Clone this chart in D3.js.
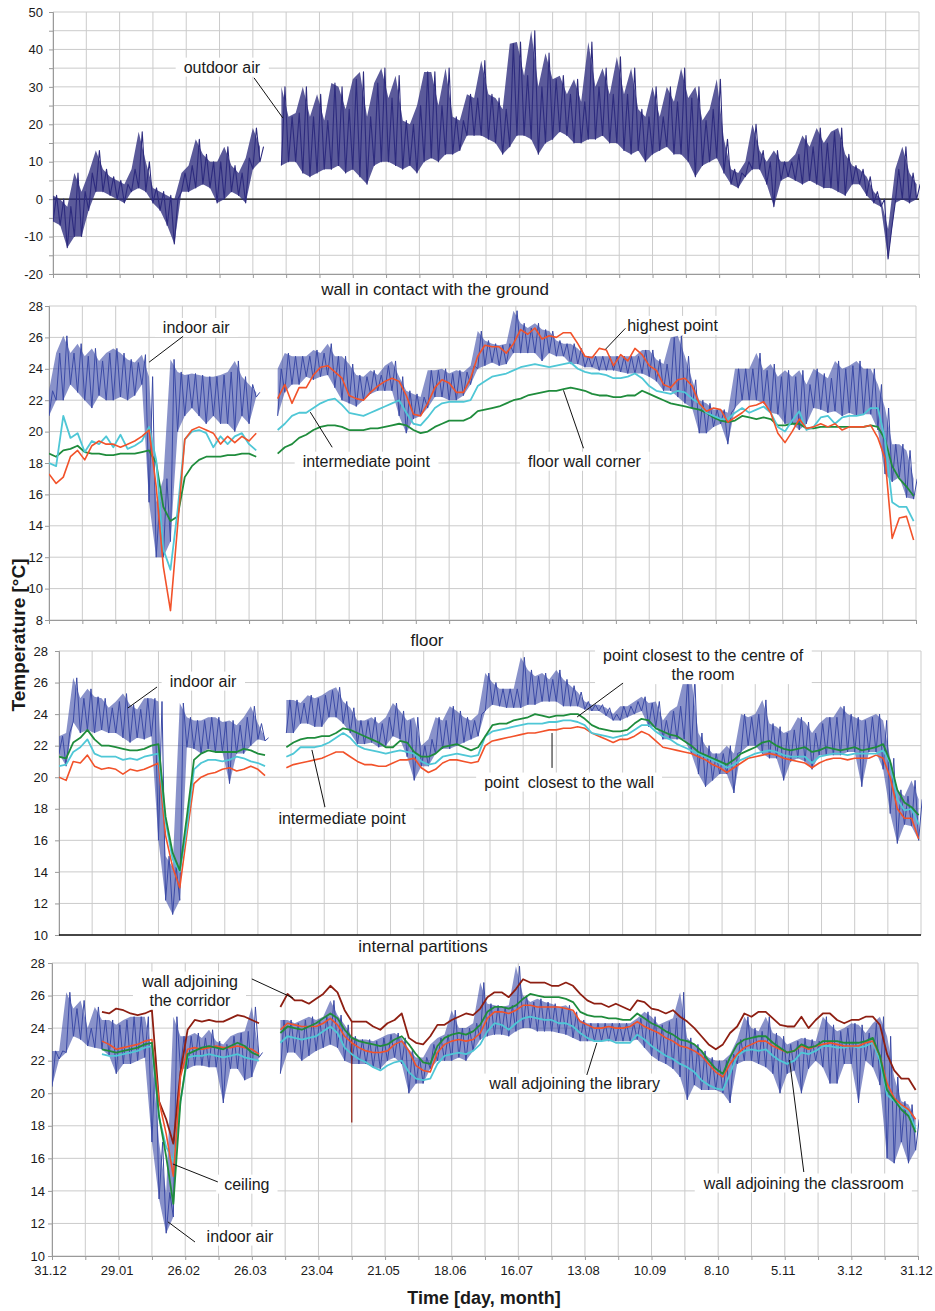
<!DOCTYPE html>
<html>
<head>
<meta charset="utf-8">
<script src="https://cdnjs.cloudflare.com/ajax/libs/d3/7.8.5/d3.min.js"></script>
<style>
  body { margin: 0; background: #fff; }
  text { font-family: "Liberation Sans", Arial, sans-serif; fill: #1a1a1a; }
</style>
</head>
<body>
<div id="chart"></div>
<script>

// Data: one sample every 3 days starting 31.12 (index i -> day 3*i)

var step = 3;
var dateLabels = ["31.12","29.01","26.02","26.03","23.04","21.05","18.06","16.07","13.08","10.09","8.10","5.11","3.12","31.12"];

// outdoor air, low / high envelope of the hourly readings
var outdoorLo = [-6,-7,-13,-10,-10,-3,2,2,1,0,
  -1,2,3,2,-1,-3,-7,-12,2,2,
  3,4,3,-1,0,2,1,-1,8,10,
  null,null,9,10,10,7,6,7,8,8,
  9,7,8,6,4,9,10,10,9,8,
  9,7,10,11,10,12,12,13,17,17,
  17,16,15,12,14,17,17,16,12,15,
  16,18,17,15,15,16,16,17,15,15,
  13,12,13,10,12,13,14,12,12,10,
  6,9,10,11,7,4,3,6,8,8,
  4,-2,5,6,5,4,5,4,3,3,
  2,1,4,4,1,-1,-2,-16,-1,0,
  -1,0];
var outdoorHi = [1,0,-2,7,2,7,13,8,6,5,
  4,8,18,10,3,2,1,0,7,9,
  16,12,10,10,14,9,7,11,19,14,
  null,null,30,22,23,30,22,28,21,31,
  30,24,32,34,22,31,35,27,33,21,
  20,25,34,34,25,35,22,21,28,27,
  37,28,27,24,41.5,42,33,45,30,39,
  32,33,28,32,26,42,30,35,28,38,
  28,35,24,22,30,22,30,26,35,27,
  30,21,24,32,16,8,7,10,20,13,
  10,13,10,10,12,17,14,19,15,18,
  19,12,9,8,6,2,0,-8,8,14,
  7,4];

// wall in contact with the ground
var wallIndoorLo = [21,22,22,23,22.5,22,21.5,22.3,22,22,
  22.2,22,22.3,23,15.5,12,12,13,20,21,
  21.5,21,20.5,21,20.5,20.5,20,21,20.5,22.2,
  null,null,21,22.5,23,23,23.5,23.3,23.5,23.6,
  22.8,22,21.8,21.6,22,22.4,22.6,22.6,22.6,21,
  19.9,20.8,21,21.5,22.2,22.2,22,22,22.3,23,
  24,24.2,24.4,24.2,24.3,25,25,25,25,24.5,
  25,24.8,24.8,24.3,24.3,24.1,24.1,23.9,23.9,23.9,
  23.8,23.7,23.7,23.7,23.5,23.2,22.6,22.6,22.2,21.8,
  21.5,19.9,19.9,20.3,20.5,19.2,21.5,22,22,22,
  21.8,21.2,21.1,20.5,20.5,20.1,20.5,21.5,21.4,21.2,
  21.3,21,21.2,21,21.1,21.1,20.1,17.3,16.8,17.1,
  15.8,15.7];
var wallIndoorHi = [22.6,25,26.1,25,25.6,24.8,25.3,24.5,25,25.3,
  25,24.6,24.4,24.9,23.5,15.5,17,24.6,23.8,23.6,
  23.7,23.6,23.5,23.5,23.6,23.8,24.5,23.5,23,22.5,
  null,null,24,25,24.8,24.8,24.8,25.2,25,25.6,
  24.8,24.8,24.3,23.6,23.5,23.9,23.6,24.2,24.5,23.5,
  22.6,22.4,22.2,23.9,23.9,24,23.7,23.9,23.8,24.2,
  26.4,25.8,25.6,25.5,25.6,27.7,26.9,26.6,26.9,26.5,
  26.4,25.8,25.6,25.6,25.3,24.8,24.8,24.8,24.8,24.8,
  24.8,24.8,24.8,25.2,25.2,24.6,24.3,26,26.1,24.8,
  23.3,22,21.8,21.4,21.4,21.2,24,24,24,25,
  23.9,24.3,23.5,23.9,23.5,23.9,23,24,23.7,23.4,
  24.5,24,24.2,24.5,24,24,23,21.5,19.2,19.2,
  18.8,17];
var wallHighest = [17.3,16.7,17.1,18.4,18.8,18.2,19.1,19.4,19.2,19.2,
  19,19.2,19.4,19.7,20.1,16.5,11.4,8.6,14,19.5,
  20.1,20.3,20.1,19.9,19.2,19.7,19.3,19.7,19.4,19.9,
  null,null,22.1,23,21.8,22.8,22.8,23.6,24.1,24.2,
  23.8,23.4,22.3,22.1,22,22.5,22.9,23.2,23.4,23.2,
  22.3,21.1,21,21.8,22.8,23.3,23.1,22.5,22.5,23.4,
  24.8,25.5,25.4,25.4,25,25.6,26.5,26.2,26.6,25.9,
  26.1,26,26.3,26.3,25.6,24.8,24.7,25.3,25.2,24.2,
  24.9,24.5,25.3,24.9,24.2,23.9,23,22.8,23.3,23.4,
  22.9,21.8,21.3,21.5,21.4,20.6,20.9,21.2,21.6,21.7,
  21.9,21.2,19.9,19.3,20,20.8,20.2,20.3,20.5,20.3,
  20.5,20.1,20.3,20.3,20.3,20.4,19.6,18.3,13.2,14.5,
  14.6,13.1];
var wallIntermediate = [18,17.8,21,19.6,19.9,18.7,19.4,19.2,19.7,19,
  19.8,18.9,19.1,19.4,20.3,18.2,12.5,11.2,15,19.5,
  20,20.1,19.9,19,19.7,19.2,19.7,19.9,19.2,18.8,
  null,null,20.1,20.5,21,21.2,21.2,21.5,21.8,22,
  22.1,21.7,21.2,21.1,21,21.2,21.4,21.6,21.8,22,
  21.2,20.5,20.4,20.9,21.5,21.8,21.9,21.9,21.9,22,
  22.9,23.2,23.5,23.6,23.7,23.9,24.1,24.2,24.3,24.2,
  24.1,24.2,24.3,24.4,24,23.8,23.7,23.7,23.6,23.4,
  23.4,23.5,23.7,23.4,22.9,22.6,22.5,22.4,22.6,22.5,
  22.1,21.8,21.2,21,20.8,20.8,21.2,21.5,21.2,21.4,
  21.6,21.2,20.3,20,20.7,21.3,20.1,20.3,20.9,21,
  20.5,20.9,21,21,21.1,21.5,21.5,19.5,15.5,15.2,
  15.2,14.3];
var wallCorner = [18.6,18.4,18.8,18.9,19.1,18.7,18.6,18.6,18.5,18.5,
  18.6,18.6,18.6,18.7,18.8,18,15.2,14.3,14.6,17.1,
  17.8,18.2,18.4,18.4,18.4,18.5,18.5,18.6,18.6,18.4,
  null,null,18.6,19,19.2,19.6,19.8,20.1,20.3,20.4,
  20.4,20.3,20.1,20.1,20.1,20.2,20.2,20.3,20.4,20.5,
  20.4,20.1,19.9,20,20.3,20.5,20.7,20.7,20.7,20.9,
  21.3,21.4,21.5,21.6,21.8,22,22.1,22.3,22.4,22.5,
  22.6,22.6,22.7,22.8,22.7,22.6,22.4,22.3,22.3,22.2,
  22.2,22.3,22.3,22.6,22.4,22.2,22,21.8,21.7,21.6,
  21.5,21.4,21.2,20.9,20.7,20.6,20.7,21,20.9,20.8,
  20.9,20.8,20.4,20.4,20.5,20.5,20.2,20.2,20.3,20.3,
  20.3,20.3,20.3,20.3,20.3,20.4,20.3,19.5,17.8,17,
  16.5,15.9];

// floor
var floorIndoorLo = [21.5,20.7,23.5,22.8,23,22.8,23,22.8,22.8,22.5,
  22.2,22.5,22.4,22.6,16,12.2,11.3,12.2,21.9,21.8,
  21.5,21.8,21.6,21.6,19.6,21.5,21.5,22,22.4,22.3,
  null,null,22.8,22.8,23.4,23.4,23.2,23.2,23.8,23.8,
  23.4,22.8,22.1,22.1,22.2,21.9,22,22.6,22.4,21.3,
  19.8,20.7,20.7,21.5,21.8,21.8,22,22.2,22.4,22.6,
  24.2,24.6,24.5,24.4,24.4,24.4,24.6,24.6,24.8,24.8,
  24.8,24.5,24.5,24.5,24.3,24.2,24.2,23.9,23.6,23.6,
  23.8,24,24.2,23.2,23.2,22.4,22.4,22.4,22.4,21.5,
  20.2,19.4,19.8,20.2,20.2,19,21.6,22,22,21.5,
  21.2,21.2,19.8,21,21.2,21,20.5,21.4,21.4,21.4,
  21.4,21.6,21.6,19.4,21.6,21.6,20.5,17.7,15.8,17,
  16.9,16];
var floorIndoorHi = [22.6,22.8,26.3,25,25.6,25.1,25,24.4,24.8,25.3,
  24.6,24.3,25,25,24.8,15,14.3,24.7,23.8,23.6,
  23.6,23.8,23.8,23.5,23.6,23.3,23.8,24.5,23.4,22.5,
  null,null,24.9,24.9,24.7,25.2,25,25.2,25.5,25.7,
  24.8,24.4,23.6,23.6,23.8,23.4,23.8,24.7,24.2,23.6,
  23.8,22,22.4,23.8,23.6,24.5,24.2,23.8,23.6,24,
  26.6,26,25.6,25.6,25.6,27.6,26.8,26.4,26.6,26.2,
  26.8,26.2,25.8,25.4,24.8,24.6,24.6,24.4,24,24.5,
  24.5,24.8,25.1,24.7,24.8,23.6,24.2,24.5,26.3,26.3,
  22.8,22,21.5,21.5,22,21.5,24,23.8,24,24.9,
  23.4,23.2,22.8,23,23.8,23.5,22.8,23.4,23.8,23.8,
  24.5,24,23.8,23.6,23.8,24,23.6,21.2,19.2,18.8,
  19.8,18.6];
var floorCentre = [21.3,21.2,22.2,22.5,23,22.4,22,22,21.9,21.8,
  21.7,21.7,21.8,22,22.1,17.5,15.2,14.1,17.5,21.1,
  21.5,21.7,21.6,21.6,21.6,21.6,21.8,21.7,21.5,21.4,
  null,null,21.9,22.2,22.4,22.5,22.5,22.6,22.6,22.8,
  23.1,23,22.8,22.6,22.4,22.2,21.9,21.9,22.3,22.2,
  21.6,21.3,21.3,21.5,21.9,22,22.1,21.9,21.7,21.9,
  22.6,23.3,23.4,23.4,23.6,23.7,23.8,24,23.9,23.8,
  23.9,23.9,24,24,23.7,23.3,23.1,23,22.9,22.9,
  23,23.4,23.7,23.6,23.1,22.9,22.7,22.6,22.3,22,
  21.6,21.4,21.2,21,20.8,21.1,21.5,21.7,21.9,22.2,
  22.3,22,21.8,21.7,21.8,21.9,21.6,21.7,21.9,21.8,
  21.7,21.8,21.9,21.7,21.8,21.9,22.1,21,19.2,18.4,
  18.1,17.6];
var floorIntermediate = [20.7,20.8,21.6,21.9,22.4,21.5,21.3,21.3,21.3,21.1,
  21.2,21.1,21.3,21.4,21.5,17.2,14.8,14,16.8,20.5,
  20.9,21.1,21.1,21,21.1,21.3,21.2,21,20.9,20.7,
  null,null,21.3,21.5,21.9,21.9,21.9,22,22.2,22.5,
  22.8,22.5,22,21.8,21.7,21.6,21.5,21.6,21.7,21.6,
  21.5,21,20.8,20.9,21.3,21.4,21.5,21.4,21.3,21.4,
  22.6,22.9,23,23.1,23.2,23.3,23.4,23.4,23.4,23.5,
  23.5,23.6,23.6,23.5,23.3,22.8,22.7,22.6,22.5,22.6,
  22.7,23,23.3,23.3,22.9,22.6,22.4,22.1,21.9,21.7,
  21.5,21.3,21.1,20.9,20.6,20.8,21.1,21.3,21.5,21.6,
  21.7,21.6,21.4,21.3,21.3,21.3,20.9,21.3,21.4,21.5,
  21.5,21.4,21.5,21.5,21.5,21.5,21.7,20.9,18.6,17.9,
  18,17];
var floorWall = [20,19.8,21,20.9,21.4,20.7,20.5,20.6,20.5,20.2,
  20.5,20.4,20.5,20.7,20.9,16.3,14.3,13,16.4,19.6,
  20,20.2,20.3,20.5,20.6,20.4,20.5,20.7,20.5,20.1,
  null,null,20.6,20.8,20.9,21,21.1,21.2,21.4,21.6,
  21.6,21.3,21,20.8,20.8,20.7,20.7,20.9,21.1,21.1,
  21.2,20.6,20.3,20.5,20.9,21.1,21.1,21,20.9,21,
  22,22.3,22.4,22.5,22.6,22.7,22.8,22.8,22.9,23,
  23,23.1,23.1,23.2,23.1,22.8,22.6,22.4,22.2,22.4,
  22.4,22.6,22.9,22.7,22.3,21.9,21.8,21.7,21.6,21.5,
  21.3,21.1,20.8,20.6,20.3,20.6,20.9,21.2,21.3,21.4,
  21.5,21.4,21.2,21.1,21,20.9,20.6,20.9,21.1,21.2,
  21.2,21.1,21.2,21.2,21.2,21.4,21.2,20,18,17.4,
  17.4,16.1];

// internal partitions
var partIndoorLo = [20.4,22.1,22.5,23.5,23.3,22.9,22.8,22.7,22.3,21.2,
  21.8,21.8,22,22.2,17,13.5,11.4,12.4,21.5,21.5,
  21.7,21.7,21.6,21.6,19.4,21.5,21.5,20.8,21,22.2,
  null,null,21.2,22.5,22.5,22,22.3,22.6,22.8,23,
  22.8,22,21.8,21.8,21.8,21.6,21.5,22,22.2,21.8,
  20,20.6,20.6,21.5,22,22,22,22.2,22,22.6,
  23.3,23.5,23.6,23.6,23.5,23.8,24,24,23.8,23.8,
  23.8,23.7,23.6,23.4,23.2,23.2,23.2,23.2,23.2,23.2,
  23.2,23.2,23.3,22.8,22.3,22,21.8,21.5,21,19.6,
  20.5,20.2,20.2,20.2,20,19.4,21.8,22,22,21.8,
  21.6,21.2,20,21.2,21.4,20,21.5,22,21.6,20.6,
  20.6,21.8,21.8,19.4,22,21.6,20.5,16,15.7,17,
  15.7,16.5];
var partIndoorHi = [22.6,22.6,26.2,25.2,25.7,24,25.3,24.5,24.5,24.2,
  24.5,24.7,24.7,24.7,22.5,17,13.9,24.7,23.5,23.5,
  23.7,23.4,23.9,23.2,23,23.5,23.7,23.8,25.3,22.5,
  null,null,24.5,24.5,24.3,24.5,24.7,24.5,24.7,25.7,
  24.8,24.2,23.5,23.3,23.3,23.2,23.4,23.6,23.7,23.4,
  22.7,22.2,22.2,23,23.4,23.6,25.1,24,24,24.3,
  26.8,25.5,25.4,25.3,25.4,27.8,26,25.6,25.8,25.6,
  25.5,25.3,25.4,25,24.5,24.3,24.3,24.3,24.3,24.3,
  24.3,24.3,24.6,25,24.7,24.2,24.4,24.6,26.2,23.4,
  23,22.6,22.2,22,22,22.4,23.3,24.7,24,23.8,
  24.7,23.7,23.5,23,23.2,23.4,23.3,23.2,24.7,24.2,
  23.8,24,24.3,24.2,23.7,24.3,24.7,23.5,21,19.5,
  19.3,18.4];
var partCorridor = [null,null,null,null,null,null,null,25,24.9,25.2,
  25.1,24.9,24.8,24.9,25.1,19.5,18.4,16.9,21.3,23.9,
  24.5,24.4,24.5,24.4,24.4,24.6,24.8,24.7,24.5,24.3,
  null,null,25.3,26.1,25.7,25.7,25.5,25.8,26.1,26.6,
  26.2,25.1,24.4,24.4,24.4,24.1,23.9,24.3,24.5,24.9,
  23.4,23.1,23,23.5,24.2,24.2,24.5,24.7,24.9,24.8,
  25.2,25.9,26.2,26.2,25.9,26.4,27,26.8,26.8,26.8,
  26.6,26.6,26.8,26.6,26.1,25.7,25.5,25.5,25.3,25.5,
  25.3,25.1,25.7,25.6,25.2,25.1,24.9,25.1,24.7,24.4,
  24,23.5,23,22.7,23,23.7,24.1,24.9,24.7,25,
  25,24.6,24.2,24.1,24.1,24.7,24,24.5,24.9,24.9,
  24.5,24.3,24.5,24.5,24.7,24.7,24.2,22.4,21.4,20.9,
  20.9,20.2];
var partCeiling = [null,null,null,null,null,null,null,23.2,23,22.7,
  22.8,22.9,23,23.2,23.3,19.5,17.5,14.9,21,22.7,
  22.8,22.7,22.8,22.9,22.8,22.8,22.9,22.8,22.7,22.4,
  null,null,23.9,24.3,24.2,24.1,24.1,24.1,24.3,24.6,
  24.2,23.5,23.1,22.8,22.6,22.5,22.5,22.6,23,23.2,
  22.6,21.7,21.4,21.3,22.5,23,23.2,23.3,23.2,23.3,
  23.7,24.6,25,25,24.9,25.1,25.4,25.4,25.3,25.3,
  25.3,25.3,25.2,25.1,24.4,24.2,24,24,24.1,24,
  24,24.1,24.4,24.1,23.9,23.7,23.4,23.2,22.9,22.8,
  22.6,22.3,21.8,21.3,21,21.8,22.4,22.8,23,23.2,
  23.2,22.9,22.7,22.5,22.6,22.9,22.7,22.9,23,23.1,
  23,22.9,22.9,22.9,23.1,23.2,22.3,20.6,19.7,19.3,
  19,18.4];
var partLibrary = [null,null,null,null,null,null,null,22.4,22.3,22.3,
  22.4,22.5,22.6,22.8,22.9,18.5,16.7,15.8,19.5,22.2,
  22.3,22.3,22.4,22.3,22.2,22.3,22.4,22.2,22.1,22,
  null,null,23.1,23.5,23.4,23.3,23.4,23.5,23.8,24.1,
  23.7,22.8,22.4,22.1,21.9,21.6,21.4,21.7,21.9,22,
  21.3,20.9,20.8,20.9,21.8,22.3,22.4,22.5,22.4,22.6,
  23,23.8,24.3,24.2,23.9,24.3,24.6,24.7,24.6,24.5,
  24.5,24.3,24.3,24.1,23.7,23.4,23.2,23.2,23.3,23.1,
  23.1,23.1,23.6,23.3,22.9,22.6,22.3,22.1,21.8,21.6,
  21.3,20.8,20.5,20.3,20.2,21.2,22.3,22.6,22.7,22.6,
  22.7,22.3,22,21.8,22,22.5,22.4,22.6,22.9,22.9,
  22.8,22.8,22.9,22.8,22.9,23.1,22,19.9,19.5,19.2,
  18.9,17.8];
var partClassroom = [null,null,null,null,null,null,null,22.7,22.6,22.5,
  22.6,22.7,22.8,23,23.1,18.6,16.1,13.2,19.5,22.4,
  22.6,22.8,22.9,22.8,22.7,22.9,23.1,22.9,22.5,22.3,
  null,null,23.7,24.1,24,23.9,24.1,24.3,24.6,24.9,
  24.6,23.9,23.4,23.2,23.1,23,22.9,23,23.3,23.5,
  23,22.4,21.9,21.8,22.9,23.4,23.6,23.7,23.6,23.8,
  24.2,25,25.3,25.3,25.2,25.4,25.8,26.1,26,25.9,
  25.9,25.9,25.8,25.6,25,24.8,24.7,24.7,24.6,24.6,
  24.5,24.5,24.9,24.6,24.3,24.1,23.8,23.6,23.3,23.2,
  23,22.6,22,21.5,21.2,22.2,23,23.3,23.4,23.5,
  23.5,23.1,22.8,22.5,22.6,23,22.8,22.9,23.2,23.2,
  23.2,23.1,23.1,23.1,23.2,23.4,22.3,20.2,19.6,19,
  18.6,17.6];

// single low reading of the corridor wall sensor (day, value)
var corridorDrop = [126, 18.2];

// Layout

var width = 935, height = 1311;
var colors = {
  outdoor: "#2d2b7e", indoor: "#3b4aa6", orange: "#f2522a",
  cyan: "#4fc7d6", green: "#1f8c3c", brown: "#8e1f12"
};

var svg = d3.select("#chart").append("svg")
    .attr("width", width)
    .attr("height", height);

function envelope(lo, hi) {		// zig-zag between low and high readings
  var pts = [];
  lo.forEach(function(v, i) {
    pts.push({t: i * step, v: v});
    pts.push({t: i * step + step / 2, v: hi[i]});
  });
  return pts;
}
function band(lo, hi) {
  return lo.map(function(v, i) { return {t: i * step, lo: v, hi: hi[i]}; });
}
function samples(vals) {
  return vals.map(function(v, i) { return {t: i * step, v: v}; });
}

var panels = [
  {left: 53, right: 919, top: 12, bottom: 274, min: -20, max: 50, grid: 5, labelEvery: 10, labelX: 43, base: "ticks", zero: true,
   series: [{lo: outdoorLo, hi: outdoorHi, color: colors.outdoor, w: 1.1, fill: 0.78}],
   notes: [{lines: ["outdoor air"], t: 71, v: 35.3, from: [84.5, 32.4], to: [96.6, 21.7]}]},
  {left: 49, right: 916, top: 306, bottom: 620, min: 8, max: 28, grid: 2, labelEvery: 2, labelX: 43, base: "ticks",
   series: [{lo: wallIndoorLo, hi: wallIndoorHi, color: colors.indoor, w: 1, fill: 0.6},
            {vals: wallCorner, color: colors.green, w: 1.8},
            {vals: wallIntermediate, color: colors.cyan, w: 1.8},
            {vals: wallHighest, color: colors.orange, w: 1.6}],
   notes: [{lines: ["indoor air"], t: 61.8, v: 26.64, from: [56.3, 26.07], to: [42, 24.42]},
           {lines: ["highest point"], t: 261.8, v: 26.77, from: [242, 26.58], to: [233.6, 25.24]},
           {lines: ["intermediate point"], t: 133.2, v: 18.12, from: [118.9, 19.0], to: [109.7, 21.24]},
           {lines: ["floor wall corner"], t: 224.8, v: 18.12, from: [224.4, 18.94], to: [216, 22.63]}]},
  {left: 59, right: 921, top: 651, bottom: 935, min: 10, max: 28, grid: 2, labelEvery: 2, labelX: 48, base: "line",
   series: [{lo: floorIndoorLo, hi: floorIndoorHi, color: colors.indoor, w: 1, fill: 0.6},
            {vals: floorWall, color: colors.orange, w: 1.6},
            {vals: floorIntermediate, color: colors.cyan, w: 1.8},
            {vals: floorCentre, color: colors.green, w: 1.8}],
   notes: [{lines: ["indoor air"], t: 60.8, v: 26.1, from: [41.4, 25.72], to: [29.1, 24.39]},
           {lines: ["point closest to the centre of", "the room"], t: 272, v: 27.11, from: [238.2, 25.97], to: [218.8, 23.82]},
           {lines: ["point  closest to the wall"], t: 215.4, v: 19.7, from: [208.2, 20.59], to: [208.2, 22.8]},
           {lines: ["intermediate point"], t: 119.5, v: 17.42, from: [112.3, 18.11], to: [106.8, 21.73]}]},
  {left: 52, right: 918, top: 963, bottom: 1256, min: 10, max: 28, grid: 2, labelEvery: 2, labelX: 45, base: "dates",
   series: [{lo: partIndoorLo, hi: partIndoorHi, color: colors.indoor, w: 1, fill: 0.6},
            {vals: partCorridor, color: colors.brown, w: 1.8, drop: corridorDrop},
            {vals: partLibrary, color: colors.cyan, w: 1.8},
            {vals: partCeiling, color: colors.orange, w: 1.6},
            {vals: partClassroom, color: colors.green, w: 1.8}],
   notes: [{lines: ["wall adjoining", "the corridor"], t: 58, v: 26.31, from: [84, 27.02], to: [101.3, 25.85]},
           {lines: ["ceiling"], t: 81.9, v: 14.42, from: [69.7, 14.55], to: [50.8, 15.65]},
           {lines: ["indoor air"], t: 79, v: 11.23, from: [60.1, 10.86], to: [48.7, 12.1]},
           {lines: ["wall adjoining the library"], t: 219.7, v: 20.63, from: [224.8, 21.12], to: [229, 23.09]},
           {lines: ["wall adjoining the classroom"], t: 316, v: 14.49, from: [316, 15.16], to: [310, 22.04]}]}
];

panels.forEach(function(p, k) {

  var x = d3.scaleLinear().domain([0, 364]).range([p.left, p.right]);
  var y = d3.scaleLinear().domain([p.min, p.max]).range([p.bottom, p.top]);
  var g = svg.append("g");

  // Grid

  g.selectAll(".hgrid").data(d3.range(p.min, p.max + 0.01, p.grid)).enter()
    .append("line")
    .attr("x1", p.left).attr("x2", p.right)
    .attr("y1", function(d) { return y(d); }).attr("y2", function(d) { return y(d); })
    .attr("stroke", "#cbcbcb").attr("stroke-width", 1);

  g.selectAll(".vgrid").data(d3.range(0, 365, 14)).enter()
    .append("line")
    .attr("x1", function(d) { return x(d); }).attr("x2", function(d) { return x(d); })
    .attr("y1", p.top).attr("y2", p.bottom)
    .attr("stroke", "#cbcbcb").attr("stroke-width", 1);

  // Y axis

  var yAxis = d3.axisLeft(y)
    .tickValues(d3.range(p.min, p.max + 0.01, p.grid))
    .tickSize(4)
    .tickFormat(function(d) { return d % p.labelEvery === 0 ? d : ""; });
  var ya = g.append("g").attr("transform", "translate(" + p.left + ",0)").call(yAxis);
  ya.select(".domain").attr("stroke", "#9a9a9a");
  ya.selectAll(".tick line").attr("stroke", "#9a9a9a");
  ya.selectAll(".tick text").attr("x", p.labelX - p.left)
    .style("font-size", "13px").attr("fill", "#222").style("font-family", "'Liberation Sans', Arial, sans-serif");

  // X axis

  if (p.base === "line") {
    g.append("line").attr("x1", p.left).attr("x2", p.right)
      .attr("y1", p.bottom).attr("y2", p.bottom)
      .attr("stroke", "#111").attr("stroke-width", 1.5);
  } else {
    var xAxis = d3.axisBottom(x)
      .tickValues(d3.range(0, 365, 14))
      .tickSize(4)
      .tickFormat(function(d) { return (p.base === "dates" && d % 28 === 0) ? dateLabels[d / 28] : ""; });
    var xa = g.append("g").attr("transform", "translate(0," + p.bottom + ")").call(xAxis);
    xa.select(".domain").attr("stroke", "#9a9a9a");
    xa.selectAll(".tick line").attr("stroke", "#9a9a9a");
    xa.selectAll(".tick text").attr("y", 10).attr("dx", -2)
      .style("font-size", "13px").attr("fill", "#222").style("font-family", "'Liberation Sans', Arial, sans-serif");
  }

  if (p.zero) {
    g.append("line").attr("x1", p.left).attr("x2", p.right)
      .attr("y1", y(0)).attr("y2", y(0))
      .attr("stroke", "#000").attr("stroke-width", 1.3);
  }

  // Series

  svg.append("clipPath").attr("id", "clip" + k)
    .append("rect").attr("x", p.left).attr("y", p.top - 4)
    .attr("width", p.right - p.left + 1).attr("height", p.bottom - p.top + 8);

  var line = d3.line()
    .defined(function(d) { return d.v != null; })
    .x(function(d) { return x(d.t); })
    .y(function(d) { return y(d.v); });

  var area = d3.area()
    .defined(function(d) { return d.lo != null; })
    .x(function(d) { return x(d.t); })
    .y0(function(d) { return y(d.lo); })
    .y1(function(d) { return y(d.hi); });

  var sg = g.append("g").attr("clip-path", "url(#clip" + k + ")");
  p.series.forEach(function(s) {
    if (s.lo) {
      sg.append("path")
        .attr("d", area(band(s.lo, s.hi)))
        .attr("fill", s.color)
        .attr("fill-opacity", s.fill);
      sg.append("path")
        .attr("d", line(envelope(s.lo, s.hi)))
        .attr("fill", "none")
        .attr("stroke", s.color)
        .attr("stroke-width", s.w)
        .attr("stroke-linejoin", "round");
    } else {
      sg.append("path")
        .attr("d", line(samples(s.vals)))
        .attr("fill", "none")
        .attr("stroke", s.color)
        .attr("stroke-width", s.w)
        .attr("stroke-linejoin", "round");
      if (s.drop) {
        var i0 = Math.round(s.drop[0] / step);
        sg.append("line")
          .attr("x1", x(s.drop[0])).attr("x2", x(s.drop[0]))
          .attr("y1", y(s.vals[i0])).attr("y2", y(s.drop[1]))
          .attr("stroke", s.color).attr("stroke-width", 1.2);
      }
    }
  });

  // Annotations

  p.notes.forEach(function(n) {
    var ng = g.append("g");
    var cx = x(n.t), cy = y(n.v);
    var lh = 19;
    var box = ng.append("rect").attr("fill", "#fff");
    var txt = ng.append("text")
      .attr("text-anchor", "middle")
      .style("font-size", "16px")
      .style("white-space", "pre");
    n.lines.forEach(function(l, i) {
      txt.append("tspan")
        .attr("x", cx)
        .attr("y", cy + (i - (n.lines.length - 1) / 2) * lh)
        .attr("dy", "0.35em")
        .text(l);
    });
    var bb = txt.node().getBBox();
    box.attr("x", bb.x - 8).attr("y", bb.y - 1)
      .attr("width", bb.width + 16).attr("height", bb.height + 2);
    ng.append("line")
      .attr("x1", x(n.from[0])).attr("y1", y(n.from[1]))
      .attr("x2", x(n.to[0])).attr("y2", y(n.to[1]))
      .attr("stroke", "#111").attr("stroke-width", 1);
  });
});

// Titles

var titles = [
  {text: "wall in contact with the ground", x: 435, y: 289},
  {text: "floor", x: 427, y: 640},
  {text: "internal partitions", x: 423, y: 946}
];
svg.selectAll(".ptitle").data(titles).enter()
  .append("text")
  .attr("x", function(d) { return d.x; })
  .attr("y", function(d) { return d.y; })
  .attr("dy", "0.35em")
  .attr("text-anchor", "middle")
  .style("font-size", "17px")
  .text(function(d) { return d.text; });

svg.append("text")
  .attr("transform", "translate(25,635) rotate(-90)")
  .attr("text-anchor", "middle")
  .style("font-size", "19px")
  .style("font-weight", "bold")
  .text("Temperature [°C]");

svg.append("text")
  .attr("x", 484).attr("y", 1298)
  .attr("dy", "0.35em")
  .attr("text-anchor", "middle")
  .style("font-size", "18px")
  .style("font-weight", "bold")
  .text("Time [day, month]");

</script>
</body>
</html>
